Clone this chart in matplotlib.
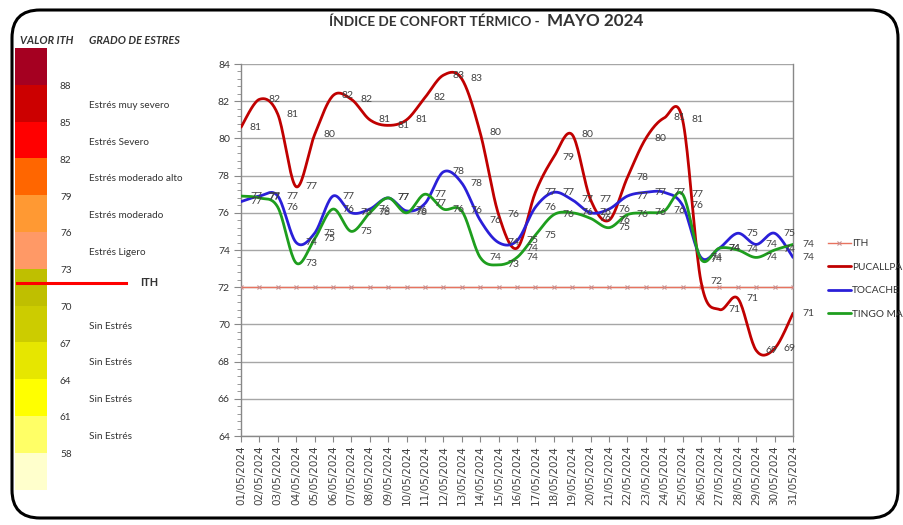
import numpy as np
import matplotlib
matplotlib.use("Agg")
import matplotlib.pyplot as plt
from matplotlib.patches import FancyBboxPatch, Rectangle
from matplotlib.ticker import MultipleLocator

plt.rcParams['font.family'] = ['Lato', 'DejaVu Sans']

# ---------------- data ----------------
dates = ["%02d/05/2024" % d for d in range(1, 32)]
ith = [72] * 31
pucallpa = [80.6, 82.1, 81.3, 77.4, 80.2, 82.3, 82.1, 81.0, 80.7, 81.0, 82.2, 83.4, 83.2, 80.3,
            75.9, 74.1, 77.1, 79.0, 80.2, 76.7, 75.6, 77.9, 80.0, 81.1, 81.0, 72.3, 70.8, 71.4,
            68.6, 68.7, 70.6]
tocache = [76.6, 76.9, 76.9, 74.4, 74.9, 76.9, 76.0, 76.2, 76.8, 76.1, 76.5, 78.2, 77.6, 75.6,
           74.4, 74.5, 76.3, 77.1, 76.7, 76.0, 76.2, 76.9, 77.1, 77.1, 76.4, 73.6, 74.1, 74.9,
           74.3, 74.9, 73.6]
tingo = [76.9, 76.8, 76.3, 73.3, 74.6, 76.2, 75.0, 76.0, 76.8, 76.0, 77.0, 76.2, 76.1, 73.6,
         73.2, 73.6, 74.8, 75.9, 76.0, 75.7, 75.2, 75.9, 76.0, 76.1, 77.0, 73.5, 74.1, 74.0,
         73.6, 74.0, 74.3]
series_names = ["ITH", "PUCALLPA", "TOCACHE", "TINGO MARIA"]

# left scale panel
scale_values = [88, 85, 82, 79, 76, 73, 70, 67, 64, 61, 58]
scale_colors = ["#A50021", "#CC0000", "#FF0000", "#FF6600", "#FF9933", "#FF9966",
                "#BFBF00", "#CCCC00", "#E6E600", "#FFFF00", "#FFFF66", "#FFFFCC"]
stress_labels = ["Estrés muy severo", "Estrés Severo", "Estrés moderado alto",
                 "Estrés moderado", "Estrés Ligero", None,
                 "Sin Estrés", "Sin Estrés", "Sin Estrés", "Sin Estrés"]

W, H = 904, 525
fig = plt.figure(figsize=(W / 100, H / 100), dpi=100)

# overlay axes in pixel coordinates (top-left origin)
bg = fig.add_axes([0, 0, 1, 1], zorder=0)
bg.set_xlim(0, W)
bg.set_ylim(H, 0)
bg.axis('off')

# rounded border
border = FancyBboxPatch((12, 10), 886, 508, boxstyle="round,pad=0,rounding_size=28",
                        fill=False, edgecolor="black", linewidth=2.2)
bg.add_patch(border)

# colour scale
top, block = 48, 36.8
for i, c in enumerate(scale_colors):
    bg.add_patch(Rectangle((15, top + i * block), 32, block, facecolor=c, edgecolor='none'))
for i, v in enumerate(scale_values):
    bg.text(60, top + (i + 1) * block + 2, str(v), fontsize=7.2, color="#333333",
            ha='left', va='center')
for i, s in enumerate(stress_labels):
    if s:
        bg.text(89, top + (i + 1) * block + 20.5, s, fontsize=7.2, color="#333333",
                ha='left', va='center')
bg.text(20, 40, "VALOR ITH", fontsize=7.8, fontweight='bold', fontstyle='italic',
        color="#333333", ha='left', va='center')
bg.text(89, 40, "GRADO DE ESTRES", fontsize=7.8, fontweight='bold', fontstyle='italic',
        color="#333333", ha='left', va='center')
bg.plot([17, 126], [283, 283], color="#FF0000", lw=2.2)
bg.text(140, 283, "ITH", fontsize=7.8, fontweight='bold', color="#333333", ha='left', va='center')

# title
bg.text(543, 22, "ÍNDICE DE CONFORT TÉRMICO - ", fontsize=9.8, fontweight='bold',
        color="#333333", ha='right', va='center')
bg.text(547, 21, "MAYO 2024", fontsize=12.3, fontweight='bold', color="#333333",
        ha='left', va='center')

# ---------------- main chart ----------------
x0, x1, y0, y1 = 241, 793, 64, 436
ax = fig.add_axes([x0 / W, (H - y1) / H, (x1 - x0) / W, (y1 - y0) / H], zorder=2)
ax.patch.set_alpha(0)
x = np.arange(1, 32)


def smooth(xs, ys, n=20):
    xs = np.asarray(xs, float)
    ys = np.asarray(ys, float)
    px = np.concatenate([[xs[0]], xs, [xs[-1]]])
    py = np.concatenate([[ys[0]], ys, [ys[-1]]])
    ox, oy = [], []
    t = np.linspace(0, 1, n, endpoint=False)
    for i in range(1, len(px) - 2):
        p0x, p1x, p2x, p3x = px[i - 1:i + 3]
        p0y, p1y, p2y, p3y = py[i - 1:i + 3]
        c1x = p1x + (p2x - p0x) / 6
        c1y = p1y + (p2y - p0y) / 6
        c2x = p2x - (p3x - p1x) / 6
        c2y = p2y - (p3y - p1y) / 6
        bx = (1 - t) ** 3 * p1x + 3 * (1 - t) ** 2 * t * c1x + 3 * (1 - t) * t ** 2 * c2x + t ** 3 * p2x
        by = (1 - t) ** 3 * p1y + 3 * (1 - t) ** 2 * t * c1y + 3 * (1 - t) * t ** 2 * c2y + t ** 3 * p2y
        ox.extend(bx)
        oy.extend(by)
    ox.append(xs[-1])
    oy.append(ys[-1])
    return np.array(ox), np.array(oy)


ax.plot(x, ith, color="#E8735F", lw=1.0, marker='x', markersize=3.2,
        markeredgecolor="#C89090", markeredgewidth=0.8, label=series_names[0], zorder=3)
cols = ["#C00000", "#2A1FD8", "#1E9E1E"]
for ys, c, name in zip([pucallpa, tocache, tingo], cols, series_names[1:]):
    sx, sy = smooth(x, ys)
    ax.plot(sx, sy, color=c, lw=2.0, label=name, zorder=4, solid_capstyle='round')
    for xi, yi in zip(x, ys):
        ax.annotate("%d" % int(np.floor(yi + 0.5)), (xi, yi), xytext=(9, 0),
                    textcoords='offset pixels', fontsize=7.5, color="#404040",
                    ha='left', va='center', zorder=5, annotation_clip=False)

ax.set_xlim(1, 31)
ax.set_ylim(64, 84)
ax.yaxis.set_major_locator(MultipleLocator(2))
ax.yaxis.set_minor_locator(MultipleLocator(0.4))
ax.set_xticks(x)
ax.set_xticklabels(dates, rotation=90, fontsize=7.5, color="#404040", family='DejaVu Sans')
ax.tick_params(axis='y', which='major', labelsize=7.5, labelcolor="#333333", length=5,
               color="#888888", pad=3)
ax.tick_params(axis='y', which='minor', length=3, color="#888888")
ax.tick_params(axis='x', length=4, color="#888888", pad=3)
ax.grid(axis='y', which='major', color="#A6A6A6", lw=1.0)
ax.set_axisbelow(True)
for s in ax.spines.values():
    s.set_color("#888888")
    s.set_linewidth(1.0)
ax.spines['top'].set_visible(False)

handles, labels = ax.get_legend_handles_labels()
leg = fig.legend(handles, labels, loc='upper left', bbox_to_anchor=(828 / W, 1 - 239 / H),
                 frameon=False, fontsize=7.3, handlelength=2.25, handletextpad=0.1,
                 labelspacing=1.42, borderpad=0, borderaxespad=0)
for t in leg.get_texts():
    t.set_color("#333333")

fig.savefig("out.png", dpi=100)
